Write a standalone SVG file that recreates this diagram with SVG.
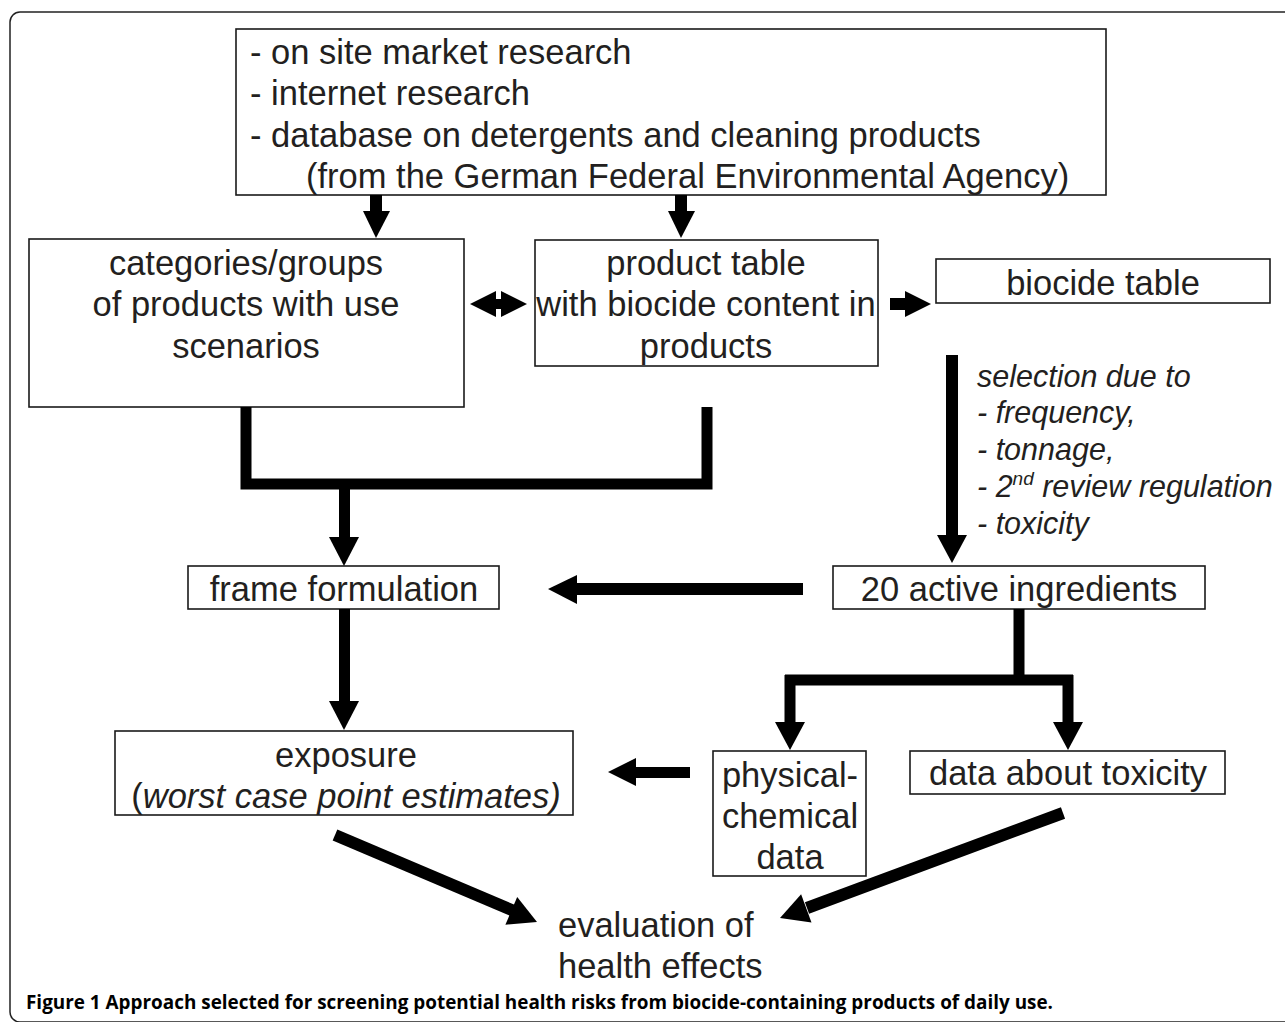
<svg xmlns="http://www.w3.org/2000/svg" width="1285" height="1022" viewBox="0 0 1285 1022">
<style>
.box{fill:#fff;stroke:#1a1a1a;stroke-width:1.6}
.t{font-family:"Liberation Sans",Arial,sans-serif;font-size:34.5px;fill:#231f20}
.c{text-anchor:middle}
.i{font-style:italic;font-size:30.5px}
.ln{fill:none;stroke:#000;stroke-width:11;stroke-linejoin:miter}
.ah{fill:#000}
.cap{font-family:"Open Sans","Liberation Sans",sans-serif;font-size:19px;font-weight:bold;fill:#000}
</style>
<rect x="10" y="12" width="1300" height="1010" rx="10" fill="none" stroke="#222" stroke-width="1.5"/>

<g id="n-sources">
<rect class="box" x="236" y="29" width="870" height="166"/>
<text class="t" x="250" y="64">- on site market research</text>
<text class="t" x="250" y="105">- internet research</text>
<text class="t" x="250" y="147">- database on detergents and cleaning products</text>
<text class="t" x="306" y="188">(from the German Federal Environmental Agency)</text>
</g>
<g id="n-categories">
<rect class="box" x="29" y="239" width="435" height="168"/>
<text class="t c" x="246" y="275">categories/groups</text>
<text class="t c" x="246" y="316">of products with use</text>
<text class="t c" x="246" y="358">scenarios</text>
</g>
<g id="n-product">
<rect class="box" x="535" y="240" width="343" height="126"/>
<text class="t c" x="706" y="275">product table</text>
<text class="t c" x="706" y="316">with biocide content in</text>
<text class="t c" x="706" y="358">products</text>
</g>
<g id="n-biocide">
<rect class="box" x="936" y="259" width="334" height="44"/>
<text class="t c" x="1103" y="295">biocide table</text>
</g>
<g id="n-selection">
<text class="t i" x="977" y="387">selection due to</text>
<text class="t i" x="977" y="423">- frequency,</text>
<text class="t i" x="977" y="460">- tonnage,</text>
<text class="t i" x="977" y="497">- 2<tspan font-size="19" dy="-12">nd</tspan><tspan dy="12"> review regulation</tspan></text>
<text class="t i" x="977" y="534">- toxicity</text>
</g>
<g id="n-frame">
<rect class="box" x="188" y="566" width="311" height="43"/>
<text class="t c" x="344" y="601">frame formulation</text>
</g>
<g id="n-active">
<rect class="box" x="833" y="566" width="372" height="43"/>
<text class="t c" x="1019" y="601">20 active ingredients</text>
</g>
<g id="n-exposure">
<rect class="box" x="115" y="731" width="458" height="84"/>
<text class="t c" x="346" y="767">exposure</text>
<text class="t c" x="346" y="808">(<tspan font-style="italic">worst case point estimates)</tspan></text>
</g>
<g id="n-physchem">
<rect class="box" x="713" y="751" width="153" height="125"/>
<text class="t c" x="790" y="787">physical-</text>
<text class="t c" x="790" y="828">chemical</text>
<text class="t c" x="790" y="869">data</text>
</g>
<g id="n-toxicity">
<rect class="box" x="910" y="751" width="315" height="43"/>
<text class="t c" x="1068" y="785">data about toxicity</text>
</g>
<g id="n-evaluation">
<text class="t" x="558" y="937">evaluation of</text>
<text class="t" x="558" y="978">health effects</text>
</g>

<g id="connectors">
<rect class="ah" x="370" y="195" width="12" height="17"/>
<polygon class="ah" points="363,211 390,211 376,238"/>
<rect class="ah" x="675" y="195" width="12" height="17"/>
<polygon class="ah" points="668,211 695,211 681,238"/>
<polygon class="ah" points="470,304 496,291 496,317"/>
<polygon class="ah" points="527,304 501,291 501,317"/>
<rect class="ah" x="494" y="299" width="9" height="10"/>
<rect class="ah" x="890" y="298" width="17" height="12"/>
<polygon class="ah" points="905,291 931,304 905,317"/>
<rect class="ah" x="946" y="355" width="12" height="181"/>
<polygon class="ah" points="937,535 967,535 952,563"/>
<path class="ln" d="M246,407 V484 H707 V407"/>
<rect class="ah" x="339" y="484" width="11" height="54"/>
<polygon class="ah" points="329,537 359,537 344,566"/>
<rect class="ah" x="575" y="583" width="228" height="12"/>
<polygon class="ah" points="548,589 577,575 577,604"/>
<rect class="ah" x="339" y="609" width="11" height="93"/>
<polygon class="ah" points="329,701 359,701 344,730"/>
<path class="ln" d="M1019,609 V680 M785,680 H1073 M790,675 V724 M1068,675 V724"/>
<polygon class="ah" points="775,722 805,722 790,750"/>
<polygon class="ah" points="1053,722 1083,722 1068,750"/>
<rect class="ah" x="634" y="767" width="56" height="11"/>
<polygon class="ah" points="608,772 636,758 636,786"/>
<path class="ln" style="stroke-width:12" d="M335,835 L514,911"/>
<polygon class="ah" points="537,922 505.4,924.7 517.2,897.1"/>
<path class="ln" style="stroke-width:12" d="M1063,813 L807,908"/>
<polygon class="ah" points="780,918 811.5,922.4 801.1,894.2"/>
</g>

<text class="cap" x="26" y="1009" textLength="1027" lengthAdjust="spacingAndGlyphs">Figure 1 Approach selected for screening potential health risks from biocide-containing products of daily use.</text>
</svg>
